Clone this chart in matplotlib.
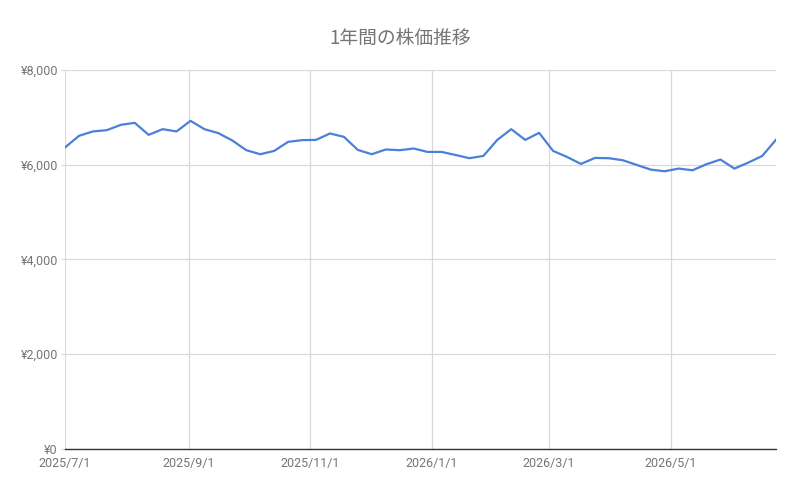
import datetime as dt
import matplotlib
matplotlib.use("Agg")
import matplotlib.pyplot as plt
import matplotlib.dates as mdates
from matplotlib.ticker import FuncFormatter

plt.rcParams['font.family'] = ['Roboto', 'Noto Sans CJK JP', 'DejaVu Sans']

# weekly closing prices, starting 2025/7/1
start = dt.date(2025, 7, 1)
prices = [6364, 6610, 6703, 6730, 6842, 6885, 6631, 6751, 6703, 6927,
          6751, 6667, 6512, 6307, 6222, 6292, 6483, 6519, 6525, 6660,
          6589, 6313, 6222, 6322, 6307, 6343, 6271, 6271, 6207, 6138,
          6186, 6525, 6751, 6525, 6673, 6292, 6165, 6017, 6144, 6138,
          6095, 5996, 5898, 5862, 5919, 5884, 6011, 6110, 5919, 6046,
          6186, 6533]
dates = [start + dt.timedelta(weeks=i) for i in range(len(prices))]

tick_dates = [dt.date(2025, 7, 1), dt.date(2025, 9, 1), dt.date(2025, 11, 1),
              dt.date(2026, 1, 1), dt.date(2026, 3, 1), dt.date(2026, 5, 1)]
y_ticks = [0, 2000, 4000, 6000, 8000]
title = "1年間の株価推移"

grey_text = '#757575'
grid_col = '#d9d9d9'

fig = plt.figure(figsize=(8, 4.94), dpi=100)
ax = fig.add_axes([0.08125, 0.0911, 0.889, 0.7672])

ax.plot(dates, prices, color='#4a80d9', linewidth=1.6, zorder=3)

ax.set_xlim(dates[0], dates[-1])
ax.set_ylim(0, 8000)
ax.set_yticks(y_ticks)
ax.yaxis.set_major_formatter(FuncFormatter(lambda v, p: f"¥{int(v):,}"))
ax.set_xticks(tick_dates)
ax.xaxis.set_major_formatter(FuncFormatter(
    lambda v, p: "{0.year}/{0.month}/{0.day}".format(mdates.num2date(v))))

ax.grid(True, color=grid_col, linewidth=0.9, zorder=0)
for s in ['top', 'right', 'left']:
    ax.spines[s].set_visible(False)
ax.spines['bottom'].set_color('#333333')
ax.spines['bottom'].set_linewidth(1.0)
ax.spines['bottom'].set_zorder(4)

ax.tick_params(axis='y', length=3, color=grid_col, colors=grey_text,
               labelsize=9, pad=2)
ax.tick_params(axis='x', length=0, colors=grey_text, labelsize=9, pad=5.5)

fig.text(0.5, 0.923, title, ha='center', va='center', fontsize=13.5,
         color=grey_text, family=['Noto Sans CJK JP', 'DejaVu Sans'])

fig.savefig('out.png', dpi=100)
